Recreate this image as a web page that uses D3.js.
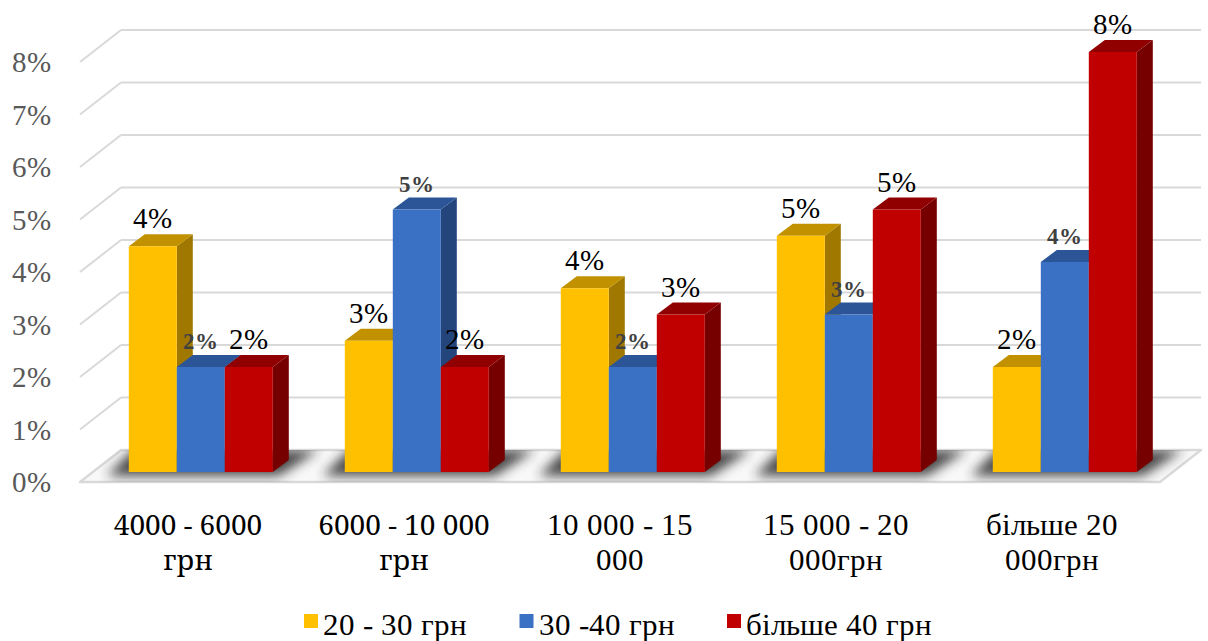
<!DOCTYPE html>
<html>
<head>
<meta charset="utf-8">
<script src="https://cdn.jsdelivr.net/npm/d3@7/dist/d3.min.js"></script>
<style>
  @font-face {
    font-family: "ChartSerif";
    src: local("Liberation Serif"), local("LiberationSerif"), local("LiberationSerif-Regular"), local("Times New Roman");
    font-weight: normal;
  }
  @font-face {
    font-family: "ChartSerif";
    src: local("Liberation Serif Bold"), local("LiberationSerif-Bold"), local("Times New Roman Bold");
    font-weight: bold;
  }
  svg text.serif { font-family: "ChartSerif", "Liberation Serif", "Times New Roman", serif !important; }
  svg text.serif-wide { font-family: "Noto Serif", "ChartSerif", "Liberation Serif", serif !important; }
</style>
</head>
<body style="margin:0;background:#ffffff">
<svg id="chart" width="1208" height="641" style="display:block"></svg>
<script>
// Income groups (two-line category labels)
const categories = ["4000 - 6000 грн", "6000 - 10 000 грн", "10 000 - 15 000", "15 000 - 20 000грн", "більше 20 000грн"];
const categoryLines = [
  ["4000 - 6000", "грн"],
  ["6000 - 10 000", "грн"],
  ["10 000 - 15", "000"],
  ["15 000 - 20", "000грн"],
  ["більше 20", "000грн"]
];
// Price-range series, values in percent
const seriesNames = ["20 - 30 грн", "30 -40 грн", "більше 40 грн"];
const series1 = [4.3, 2.5, 3.5, 4.5, 2];
const series2 = [2, 5, 2, 3, 4];
const series3 = [2, 2, 3, 5, 8];
const tickValues = [0, 1, 2, 3, 4, 5, 6, 7, 8];

const colors = [
  { front: "#FFC000", top: "#C29100", side: "#A07800" },
  { front: "#3A71C5", top: "#2C5597", side: "#23457C" },
  { front: "#C00000", top: "#900000", side: "#760000" }
];

const values = [series1, series2, series3];

// 3D geometry: floor depth vector, bar plane offset, bar depth
const floorDepth = { dx: 41, dy: -32 };
const barOffset = { dx: 12.8, dy: -10 };
const barDepth = { dx: 16, dy: -12 };

const frontLeft = 80, frontRight = 1160;
const yFront = d3.scaleLinear().domain([0, 8]).range([482, 62]);
const yBack = d3.scaleLinear().domain([0, 8]).range([482 + floorDepth.dy, 62 + floorDepth.dy]);
const yBar = d3.scaleLinear().domain([0, 8]).range([482 + barOffset.dy, 62 + barOffset.dy]);

const xFront = d3.scaleBand().domain(categories).range([frontLeft, frontRight])
  .paddingInner(1 / 3).paddingOuter(1 / 6);
const xBar = d3.scaleBand().domain(categories).range([frontLeft + barOffset.dx, frontRight + barOffset.dx])
  .paddingInner(1 / 3).paddingOuter(1 / 6);
const xSub = d3.scaleBand().domain(seriesNames).range([0, xBar.bandwidth()]);

function addText(svg, cls, size, weight, fill, anchor, x, y, str) {
  return svg.append("text")
    .attr("class", cls)
    .attr("x", x).attr("y", y)
    .attr("text-anchor", anchor)
    .attr("font-size", size)
    .attr("font-weight", weight)
    .attr("fill", fill)
    .text(str);
}

function draw() {
  const svg = d3.select("#chart");
  svg.selectAll("*").remove();

  const defs = svg.append("defs");
  defs.append("filter").attr("id", "floorShadow")
    .attr("x", "-30%").attr("y", "-100%").attr("width", "160%").attr("height", "300%")
    .append("feGaussianBlur").attr("stdDeviation", 6);
  const floorPts = [
    [frontLeft, yFront(0)], [frontRight, yFront(0)],
    [frontRight + floorDepth.dx, yBack(0)], [frontLeft + floorDepth.dx, yBack(0)]
  ];
  defs.append("clipPath").attr("id", "floorClip")
    .append("polygon").attr("points", floorPts.map(p => p.join(",")).join(" "));

  // Gridlines: back wall and left side wall
  const grid = svg.append("g");
  tickValues.filter(v => v > 0).forEach(v => {
    grid.append("line")
      .attr("x1", frontLeft + floorDepth.dx).attr("x2", frontRight + floorDepth.dx)
      .attr("y1", yBack(v)).attr("y2", yBack(v))
      .attr("stroke", "#d9d9d9").attr("stroke-width", 2);
    grid.append("line")
      .attr("x1", frontLeft).attr("y1", yFront(v))
      .attr("x2", frontLeft + floorDepth.dx).attr("y2", yBack(v))
      .attr("stroke", "#d9d9d9").attr("stroke-width", 2);
  });

  // Floor
  svg.append("polygon")
    .attr("points", floorPts.map(p => p.join(",")).join(" "))
    .attr("fill", "#f8f8f8").attr("stroke", "#d9d9d9").attr("stroke-width", 2.5)
    .attr("stroke-linejoin", "round");

  // Soft shadows under each group of bars
  const shadowG = svg.append("g").attr("clip-path", "url(#floorClip)");
  categories.forEach(c => {
    const x0 = xBar(c), x1 = xBar(c) + xBar.bandwidth();
    const yb = yBar(0);
    shadowG.append("polygon")
      .attr("points", [
        [x0 - 22, yb + 4], [x1 + 6, yb + 4],
        [x1 + barDepth.dx + 30, yb + barDepth.dy - 10], [x0 + 4, yb + barDepth.dy - 10]
      ].map(p => p.join(",")).join(" "))
      .attr("fill", "#2b2b2b").attr("opacity", 0.85)
      .attr("filter", "url(#floorShadow)");
  });

  // Bars, drawn left to right so neighbours cover hidden side faces
  const bars = svg.append("g");
  categories.forEach((c, ci) => {
    seriesNames.forEach((s, si) => {
      const v = values[si][ci];
      const col = colors[si];
      const x0 = xBar(c) + xSub(s), w = xSub.bandwidth();
      const yt = yBar(v), yb = yBar(0);
      const dx = barDepth.dx, dy = barDepth.dy;
      const g = bars.append("g");
      g.append("polygon")
        .attr("points", [[x0 + w, yt], [x0 + w + dx, yt + dy], [x0 + w + dx, yb + dy], [x0 + w, yb]].map(p => p.join(",")).join(" "))
        .attr("fill", col.side);
      g.append("polygon")
        .attr("points", [[x0, yt], [x0 + w, yt], [x0 + w + dx, yt + dy], [x0 + dx, yt + dy]].map(p => p.join(",")).join(" "))
        .attr("fill", col.top);
      g.append("rect")
        .attr("x", x0).attr("y", yt).attr("width", w).attr("height", yb - yt)
        .attr("fill", col.front);
    });
  });

  // Value labels
  categories.forEach((c, ci) => {
    seriesNames.forEach((s, si) => {
      const v = values[si][ci];
      const cx = xBar(c) + xSub(s) + xSub.bandwidth() / 2;
      const bold = si === 1;
      addText(svg, "serif", bold ? 23 : 29, bold ? "bold" : "normal",
        bold ? "#404040" : "#000000", "middle", cx, yBar(v) - 18, Math.round(v) + "%");
    });
  });

  // Value axis labels on the front edge
  tickValues.forEach(v => {
    addText(svg, "serif", 29, "normal", "#595959", "end", 51, yFront(v) + 10, v + "%");
  });

  // Category labels (the first two use a wider serif face)
  categories.forEach((c, ci) => {
    const cx = xFront(c) + xFront.bandwidth() / 2;
    const wide = ci < 2;
    categoryLines[ci].forEach((line, li) => {
      addText(svg, wide ? "serif-wide" : "serif", wide ? 28 : 31, "normal", "#000000",
        "middle", cx, 535 + li * 35, line);
    });
  });

  // Legend spread across a fixed span
  const widths = seriesNames.map(name => {
    const t = addText(svg, "serif", 31, "normal", "#000000", "start", 0, -100, name);
    const w = t.node().getComputedTextLength();
    t.remove();
    return 19 + w;
  });
  const legendLeft = 304, legendRight = 932, legendY = 635;
  const gap = (legendRight - legendLeft - d3.sum(widths)) / (seriesNames.length - 1);
  let lx = legendLeft;
  seriesNames.forEach((name, i) => {
    svg.append("rect").attr("x", lx).attr("y", legendY - 21).attr("width", 14).attr("height", 14)
      .attr("fill", colors[i].front);
    addText(svg, "serif", 31, "normal", "#000000", "start", lx + 19, legendY, name);
    lx += widths[i] + gap;
  });
}

draw();
// Redraw once the serif faces are ready so text widths are measured with them
if (document.fonts && document.fonts.load) {
  Promise.all([
    document.fonts.load('29px "ChartSerif"', "4% грн"),
    document.fonts.load('bold 23px "ChartSerif"', "4%"),
    document.fonts.load('28px "Noto Serif"', "4000 грн")
  ]).then(draw).catch(() => {});
}
</script>
</body>
</html>
